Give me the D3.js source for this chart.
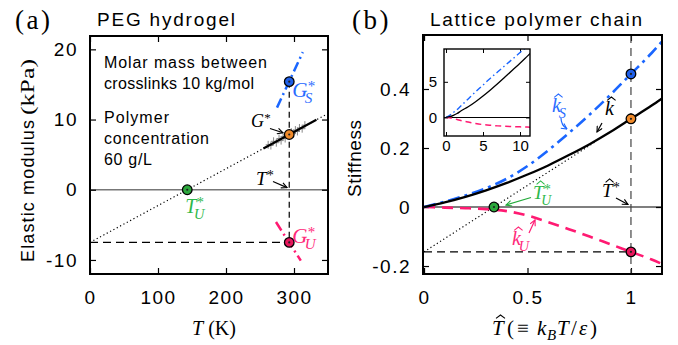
<!DOCTYPE html>
<html><head><meta charset="utf-8">
<script src="https://cdn.jsdelivr.net/npm/d3@7"></script>
<style>
html,body{margin:0;padding:0;background:#fff;}
svg{display:block;}
</style></head><body>
<svg id="c" width="678" height="345"></svg>
<script>
// ---------------- DATA ----------------
// Panel (a): PEG hydrogel
const leftXTicks = [0, 100, 200, 300];
const leftYTicks = [-10, 0, 10, 20];
const leftXDomain = [0, 350];
const leftYDomain = [-12, 21.9];
const Tstar = 293;               // K
const TUstar = 143;              // K
const Gstar = 7.87, GSstar = 15.4, GUstar = -7.5;   // kPa
const tangentT = [0, 350];
const tangentG = [-7.5, 10.86];
const gsLineT = [275, 313];
const gsLineG = [11.7, 19.6];
const guLineT = [273.5, 310];
const guLineG = [-4.6, -10.1];
const fitT = [255, 333];
const fitG = [5.87, 9.97];
const measT = [262, 266, 270, 274, 278, 281, 284, 287, 290, 293, 296, 299, 302, 305, 308, 312, 316];
const measG = [6.4, 6.3, 6.9, 6.7, 7.3, 7.0, 7.6, 7.3, 7.9, 7.7, 8.2, 8.0, 8.5, 8.3, 8.8, 8.7, 9.2];

// Panel (b): lattice polymer chain
const rightXTicks = [0, 0.5, 1];
const rightYTicks = [-0.2, 0, 0.2, 0.4];
const rightXDomain = [-0.005, 1.15];
const rightYDomain = [-0.227, 0.583];
const That = [0, 0.1, 0.2, 0.3, 0.4, 0.5, 0.6, 0.7, 0.8, 0.9, 1.0, 1.1, 1.15];
const kTot = [0, 0.0156, 0.0345, 0.0565, 0.0817, 0.110, 0.141, 0.176, 0.213, 0.254, 0.299, 0.344, 0.368];
const kS   = [0, 0.018, 0.039, 0.064, 0.096, 0.139, 0.192, 0.251, 0.313, 0.380, 0.451, 0.522, 0.561];
const kU   = [0, -0.002, -0.004, -0.007, -0.014, -0.029, -0.051, -0.075, -0.100, -0.126, -0.152, -0.178, -0.193];
const ThatStar = 1, ThatU = 0.338;
const kStar = 0.299, kSStar = 0.451, kUStar = -0.152;
const rTangentT = [0, 0.83];
const rTangentK = [-0.152, 0.222];

// Inset
const insetXTicks = [0, 5, 10];
const insetYTicks = [0, 5];
const insetXDomain = [-0.27, 11.35];
const insetYDomain = [-2.6, 9.6];
const Ti   = [0, 0.5, 1, 1.5, 2, 3, 4, 5, 6, 7, 8, 9, 10, 11, 11.4];
const kTotI= [0, 0.1, 0.3, 0.55, 0.9, 1.5, 2.2, 3.0, 3.85, 4.75, 5.7, 6.65, 7.6, 8.6, 9.0];
const kSI  = [0, 0.3, 0.7, 1.1, 1.6, 2.6, 3.6, 4.55, 5.5, 6.4, 7.3, 8.2, 9.1, 10.0, 10.4];
const kUI  = [0, -0.03, -0.15, -0.28, -0.42, -0.65, -0.85, -1.0, -1.1, -1.18, -1.24, -1.29, -1.32, -1.35, -1.36];

// ---------------- STYLE ----------------
const SANS = '"Liberation Sans", Arial, Helvetica, sans-serif';
const SERIF = '"Liberation Serif", "Times New Roman", serif';
const BLUE = "#1a66ff", PINK = "#ff1a72", GREEN_T = "#2db84a", BLUE_T = "#2a6cff", PINK_T = "#ff2a7a";
const PT = {blue: "#1f5fe8", orange: "#f08a2a", green: "#2ca73c", pink: "#e8175d"};

const svg = d3.select("#c");
const defs = svg.append("defs");
function arrowMarker(id, color) {
  defs.append("marker").attr("id", id).attr("viewBox", "0 0 10 10")
    .attr("refX", 9).attr("refY", 5).attr("markerWidth", 7).attr("markerHeight", 7)
    .attr("orient", "auto").attr("markerUnits", "userSpaceOnUse")
    .append("path").attr("d", "M1,1 L9,5 L1,9").attr("fill", "none")
    .attr("stroke", color).attr("stroke-width", 1.6);
}
arrowMarker("aBlack", "#000"); arrowMarker("aBlue", BLUE); arrowMarker("aGreen", "#22aa3a"); arrowMarker("aPink", PINK);

function styleAxis(g, fs, ls) {
  g.select(".domain").remove();
  g.attr("font-size", null).attr("font-family", null);
  g.selectAll("line").attr("stroke", "#000").attr("stroke-width", 1.2);
  g.selectAll("text").attr("font-family", SANS).attr("font-size", fs).attr("letter-spacing", ls + "px").attr("fill", "#000");
}
const fmt = d => String(d);

function hat(g, cx, y, w, color) {
  g.append("path").attr("d", `M${cx - w / 2},${y + 3.4} L${cx},${y} L${cx + w / 2},${y + 3.4}`)
    .attr("fill", "none").attr("stroke", color).attr("stroke-width", 1.1);
}
function mlabel(g, x, y, o) {
  const s = o.size, ss = s * 0.72;
  const bw = (o.base === "G" ? 0.72 : o.base === "T" ? 0.56 : 0.46) * s;
  const t = g.append("text").attr("x", x).attr("y", y).attr("font-family", SERIF)
    .attr("font-size", s).attr("fill", o.color);
  t.append("tspan").attr("font-style", "italic").text(o.base);
  if (o.sup) t.append("tspan").attr("x", x + bw + 0.02 * s).attr("dy", -0.28 * s).attr("font-size", ss).text("*");
  if (o.sub) t.append("tspan").attr("x", x + bw - 0.12 * s).attr("dy", (o.sup ? 0.58 : 0.3) * s)
    .attr("font-size", ss).attr("font-style", "italic").text(o.sub);
  if (o.hat) {
    const dx = o.base === "T" ? 0.4 : 0.32;
    const dy = o.base === "T" ? 0.95 : 0.9;
    hat(g, x + dx * s, y - dy * s, 0.42 * s, o.color);
  }
}
function arrow(g, d, color, marker) {
  g.append("path").attr("d", d).attr("fill", "none").attr("stroke", color)
    .attr("stroke-width", 1.2).attr("marker-end", `url(#${marker})`);
}
function ptMark(g, cx, cy, fill) {
  g.append("circle").attr("cx", cx).attr("cy", cy).attr("r", 4.8).attr("fill", fill)
    .attr("stroke", "#000").attr("stroke-width", 1.3);
  g.append("circle").attr("cx", cx).attr("cy", cy).attr("r", 1.1).attr("fill", "#222");
}
function sansText(g, x, y, txt, fs, len) {
  const t = g.append("text").attr("x", x).attr("y", y).attr("font-family", SANS)
    .attr("font-size", fs).attr("fill", "#000").text(txt);
  if (len) t.attr("textLength", len).attr("lengthAdjust", "spacing");
  return t;
}

// ---------------- PANEL (a) ----------------
const xL = d3.scaleLinear().domain(leftXDomain).range([90, 328]);
const yL = d3.scaleLinear().domain(leftYDomain).range([274, 36]);
const gL = svg.append("g");

gL.append("line").attr("x1", xL(leftXDomain[0])).attr("x2", xL(leftXDomain[1]))
  .attr("y1", yL(0)).attr("y2", yL(0)).attr("stroke", "#777").attr("stroke-width", 1.5);

gL.append("g").attr("transform", `translate(0,${yL.range()[0]})`)
  .call(d3.axisBottom(xL).tickValues(leftXTicks).tickSize(-6).tickPadding(17).tickFormat(fmt))
  .call(g => styleAxis(g, 19, 1.5));
gL.append("g").attr("transform", `translate(0,${yL.range()[1]})`)
  .call(d3.axisTop(xL).tickValues(leftXTicks).tickSize(-6).tickFormat(""))
  .call(g => styleAxis(g, 19, 0));
gL.append("g").attr("transform", `translate(${xL.range()[0]},0)`)
  .call(d3.axisLeft(yL).tickValues(leftYTicks).tickSize(-6).tickPadding(12).tickFormat(fmt))
  .call(g => styleAxis(g, 19, 1.5));
gL.append("g").attr("transform", `translate(${xL.range()[1]},0)`)
  .call(d3.axisRight(yL).tickValues(leftYTicks).tickSize(-6).tickFormat(""))
  .call(g => styleAxis(g, 19, 0));

gL.append("line").attr("x1", xL(0)).attr("x2", xL(Tstar)).attr("y1", yL(GUstar)).attr("y2", yL(GUstar))
  .attr("stroke", "#000").attr("stroke-width", 1.2).attr("stroke-dasharray", "8,5");
gL.append("line").attr("x1", xL(Tstar)).attr("x2", xL(Tstar)).attr("y1", yL(GSstar)).attr("y2", yL(GUstar))
  .attr("stroke", "#000").attr("stroke-width", 1.2).attr("stroke-dasharray", "6,4");

const lineL = d3.line().x(d => xL(d[0])).y(d => yL(d[1]));
gL.append("path").attr("d", lineL(d3.zip(tangentT, tangentG))).attr("fill", "none")
  .attr("stroke", "#000").attr("stroke-width", 1.2).attr("stroke-dasharray", "1.2,2.6");
measT.forEach((t, i) => {
  const cx = xL(t), cy = yL(measG[i]);
  gL.append("path").attr("d", `M${cx},${cy - 4} V${cy + 4} M${cx - 2.5},${cy} H${cx + 2.5}`)
    .attr("stroke", "#888").attr("stroke-width", 1);
});
gL.append("path").attr("d", lineL(d3.zip(fitT, fitG))).attr("fill", "none")
  .attr("stroke", "#000").attr("stroke-width", 2.2);
gL.append("path").attr("d", lineL(d3.zip(gsLineT, gsLineG))).attr("fill", "none")
  .attr("stroke", BLUE).attr("stroke-width", 2.5).attr("stroke-dasharray", "10,4,2,4");
gL.append("path").attr("d", lineL(d3.zip(guLineT, guLineG))).attr("fill", "none")
  .attr("stroke", PINK).attr("stroke-width", 2.5).attr("stroke-dasharray", "10,4,2,4");

gL.append("rect").attr("x", 90).attr("y", 36).attr("width", 238).attr("height", 238)
  .attr("fill", "none").attr("stroke", "#000").attr("stroke-width", 2);

ptMark(gL, xL(Tstar), yL(GSstar), PT.blue);
ptMark(gL, xL(Tstar), yL(Gstar), PT.orange);
ptMark(gL, xL(TUstar), yL(0), PT.green);
ptMark(gL, xL(Tstar), yL(GUstar), PT.pink);

sansText(gL, 104, 68, "Molar mass between", 16, 163);
sansText(gL, 104, 89, "crosslinks 10 kg/mol", 16, 150);
sansText(gL, 104, 123, "Polymer", 16, 65);
sansText(gL, 104, 144, "concentration", 16, 105);
sansText(gL, 104, 165, "60 g/L", 16, 48);

mlabel(gL, xL(Tstar) + 3, yL(GSstar) + 15, {base: "G", sub: "S", sup: true, size: 21, color: BLUE_T});
mlabel(gL, 251, 127, {base: "G", sup: true, size: 18, color: "#000"});
arrow(gL, "M270,128.5 L283,132.8", "#000", "aBlack");
mlabel(gL, 256, 185, {base: "T", sup: true, size: 19, color: "#000"});
arrow(gL, "M273,181.5 L287,187.6", "#000", "aBlack");
mlabel(gL, xL(Tstar) + 3, yL(GUstar) + 0.5, {base: "G", sub: "U", sup: true, size: 21, color: PINK_T});
mlabel(gL, xL(TUstar) - 2, yL(0) + 23, {base: "T", sub: "U", sup: true, size: 20, color: GREEN_T});

svg.append("text").attr("x", 15).attr("y", 29).attr("font-family", SERIF).attr("font-size", 27)
  .attr("letter-spacing", "2.5px").text("(a)");
sansText(svg, 97, 26, "PEG hydrogel", 19, 138);
const xtL = svg.append("text").attr("x", 192).attr("y", 335).attr("font-family", SERIF).attr("font-size", 20);
xtL.append("tspan").attr("font-style", "italic").text("T");
xtL.append("tspan").text(" (K)");
svg.append("text").attr("transform", "translate(34,262) rotate(-90)").attr("font-family", SANS)
  .attr("font-size", 18).attr("textLength", 142).attr("lengthAdjust", "spacing").text("Elastic modulus");
svg.append("text").attr("transform", "translate(34,115) rotate(-90)").attr("font-family", SERIF)
  .attr("font-size", 19).attr("textLength", 56).attr("lengthAdjust", "spacingAndGlyphs").text("(kPa)");

// ---------------- PANEL (b) ----------------
const xR = d3.scaleLinear().domain(rightXDomain).range([423, 662]);
const yR = d3.scaleLinear().domain(rightYDomain).range([274, 35]);
const gR = svg.append("g");

gR.append("line").attr("x1", xR.range()[0]).attr("x2", xR.range()[1])
  .attr("y1", yR(0)).attr("y2", yR(0)).attr("stroke", "#555").attr("stroke-width", 1.3);

gR.append("g").attr("transform", `translate(0,${yR.range()[0]})`)
  .call(d3.axisBottom(xR).tickValues(rightXTicks).tickSize(-6).tickPadding(17).tickFormat(fmt))
  .call(g => styleAxis(g, 19, 1.5));
gR.append("g").attr("transform", `translate(0,${yR.range()[1]})`)
  .call(d3.axisTop(xR).tickValues(rightXTicks).tickSize(-6).tickFormat(""))
  .call(g => styleAxis(g, 19, 0));
gR.append("g").attr("transform", `translate(${xR.range()[0]},0)`)
  .call(d3.axisLeft(yR).tickValues(rightYTicks).tickSize(-6).tickPadding(12).tickFormat(fmt))
  .call(g => styleAxis(g, 19, 1.5));
gR.append("g").attr("transform", `translate(${xR.range()[1]},0)`)
  .call(d3.axisRight(yR).tickValues(rightYTicks).tickSize(-6).tickFormat(""))
  .call(g => styleAxis(g, 19, 0));

gR.append("line").attr("x1", xR(ThatStar)).attr("x2", xR(ThatStar)).attr("y1", yR.range()[1]).attr("y2", yR.range()[0])
  .attr("stroke", "#444").attr("stroke-width", 1.2).attr("stroke-dasharray", "8,5");
gR.append("line").attr("x1", xR(0)).attr("x2", xR(ThatStar)).attr("y1", yR(kUStar)).attr("y2", yR(kUStar))
  .attr("stroke", "#000").attr("stroke-width", 1.2).attr("stroke-dasharray", "8,5");

const lineR = d3.line().x(d => xR(d[0])).y(d => yR(d[1])).curve(d3.curveMonotoneX);
gR.append("path").attr("d", lineR(d3.zip(rTangentT, rTangentK))).attr("fill", "none")
  .attr("stroke", "#000").attr("stroke-width", 1.2).attr("stroke-dasharray", "1.2,2.6");
gR.append("path").attr("d", lineR(d3.zip(That, kU))).attr("fill", "none")
  .attr("stroke", PINK).attr("stroke-width", 2.6).attr("stroke-dasharray", "11,7");
gR.append("path").attr("d", lineR(d3.zip(That, kS))).attr("fill", "none")
  .attr("stroke", BLUE).attr("stroke-width", 2.6).attr("stroke-dasharray", "12,5,3,5");
gR.append("path").attr("d", lineR(d3.zip(That, kTot))).attr("fill", "none")
  .attr("stroke", "#000").attr("stroke-width", 2.3);

gR.append("rect").attr("x", 423).attr("y", 35).attr("width", 239).attr("height", 239)
  .attr("fill", "none").attr("stroke", "#000").attr("stroke-width", 2);

ptMark(gR, xR(ThatStar), yR(kSStar), PT.blue);
ptMark(gR, xR(ThatStar), yR(kStar), PT.orange);
ptMark(gR, xR(ThatU), yR(0), PT.green);
ptMark(gR, xR(ThatStar), yR(kUStar), PT.pink);

// ---- inset ----
const xI = d3.scaleLinear().domain(insetXDomain).range([444, 530]);
const yI = d3.scaleLinear().domain(insetYDomain).range([136, 49]);
const gI = svg.append("g");
gI.append("rect").attr("x", 444).attr("y", 49).attr("width", 86).attr("height", 87).attr("fill", "#fff");
defs.append("clipPath").attr("id", "insetClip").append("rect").attr("x", 444).attr("y", 49).attr("width", 86).attr("height", 87);
gI.append("line").attr("x1", 444).attr("x2", 530).attr("y1", yI(0)).attr("y2", yI(0)).attr("stroke", "#000").attr("stroke-width", 1.1);
gI.append("g").attr("transform", "translate(0,136)")
  .call(d3.axisBottom(xI).tickValues(insetXTicks).tickSize(-4).tickPadding(4).tickFormat(fmt))
  .call(g => styleAxis(g, 15, 0));
gI.append("g").attr("transform", "translate(0,49)")
  .call(d3.axisTop(xI).tickValues(insetXTicks).tickSize(-4).tickFormat(""))
  .call(g => styleAxis(g, 15, 0));
gI.append("g").attr("transform", "translate(444,0)")
  .call(d3.axisLeft(yI).tickValues(insetYTicks).tickSize(-4).tickPadding(7).tickFormat(fmt))
  .call(g => styleAxis(g, 15, 0));
gI.append("g").attr("transform", "translate(530,0)")
  .call(d3.axisRight(yI).tickValues(insetYTicks).tickSize(-4).tickFormat(""))
  .call(g => styleAxis(g, 15, 0));
gI.selectAll(".tick line").attr("stroke-width", 1);
const lineI = d3.line().x(d => xI(d[0])).y(d => yI(d[1])).curve(d3.curveMonotoneX);
const gIc = gI.append("g").attr("clip-path", "url(#insetClip)");
gIc.append("path").attr("d", lineI(d3.zip(Ti, kUI))).attr("fill", "none").attr("stroke", PINK)
  .attr("stroke-width", 1.5).attr("stroke-dasharray", "6,4");
gIc.append("path").attr("d", lineI(d3.zip(Ti, kSI))).attr("fill", "none").attr("stroke", BLUE)
  .attr("stroke-width", 1.4).attr("stroke-dasharray", "6,3,1.5,3");
gIc.append("path").attr("d", lineI(d3.zip(Ti, kTotI))).attr("fill", "none").attr("stroke", "#000")
  .attr("stroke-width", 1.3);
gI.append("rect").attr("x", 444).attr("y", 49).attr("width", 86).attr("height", 87)
  .attr("fill", "none").attr("stroke", "#000").attr("stroke-width", 1.4);

// labels panel (b)
mlabel(gR, 552, 112, {base: "k", sub: "S", hat: true, size: 20, color: BLUE_T});
arrow(gR, "M561,118 Q561,125 567,129", BLUE, "aBlue");
mlabel(gR, 605, 115, {base: "k", hat: true, size: 20, color: "#000"});
arrow(gR, "M602,123 L597,132", "#000", "aBlack");
mlabel(gR, 533, 199, {base: "T", sub: "U", sup: true, hat: true, size: 19, color: GREEN_T});
arrow(gR, "M531,197.5 L506,205", "#22aa3a", "aGreen");
mlabel(gR, 602, 197, {base: "T", sup: true, hat: true, size: 19, color: "#000"});
arrow(gR, "M616,198 L628,204.5", "#000", "aBlack");
mlabel(gR, 512, 245, {base: "k", sub: "U", hat: true, size: 20, color: PINK_T});
arrow(gR, "M529,233 L535,220", PINK, "aPink");

svg.append("text").attr("x", 352).attr("y", 29).attr("font-family", SERIF).attr("font-size", 27)
  .attr("letter-spacing", "2.5px").text("(b)");
sansText(svg, 430, 26, "Lattice polymer chain", 19, 212);
svg.append("text").attr("transform", "translate(361,197) rotate(-90)").attr("font-family", SANS)
  .attr("font-size", 19).attr("textLength", 77).attr("lengthAdjust", "spacing").text("Stiffness");

// x title panel (b)
const xtR = svg.append("text").attr("x", 492).attr("y", 335).attr("font-family", SERIF).attr("font-size", 21);
xtR.append("tspan").attr("font-style", "italic").text("T");
xtR.append("tspan").attr("x", 507).text("(");
xtR.append("tspan").attr("x", 517).text("≡");
xtR.append("tspan").attr("x", 537).attr("font-style", "italic").text("k");
xtR.append("tspan").attr("x", 547).attr("font-style", "italic").attr("font-size", 15).attr("dy", 4.5).text("B");
xtR.append("tspan").attr("x", 557).attr("font-style", "italic").attr("dy", -4.5).text("T");
xtR.append("tspan").attr("x", 571).text("/");
xtR.append("tspan").attr("x", 579).attr("font-style", "italic").text("ε");
xtR.append("tspan").attr("x", 590).text(")");
hat(svg, 492 + 8.5, 335 - 20, 9, "#000");
</script>
</body></html>
